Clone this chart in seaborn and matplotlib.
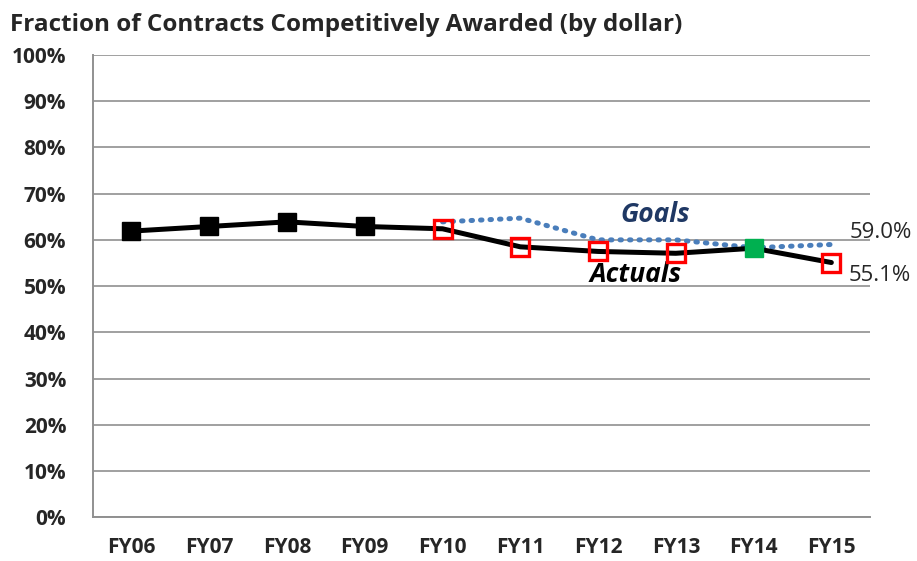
import numpy as np
import pandas as pd
import matplotlib
matplotlib.use("Agg")
import matplotlib.pyplot as plt
import seaborn as sns

# data
years = ["FY06", "FY07", "FY08", "FY09", "FY10", "FY11", "FY12", "FY13", "FY14", "FY15"]
actuals = [61.9, 62.9, 63.9, 62.9, 62.4, 58.5, 57.5, 57.1, 58.2, 55.1]
goal_years = ["FY10", "FY11", "FY12", "FY13", "FY14", "FY15"]
goals = [63.9, 64.7, 60.0, 60.0, 58.3, 59.0]
red_years = ["FY10", "FY11", "FY12", "FY13", "FY15"]
green_years = ["FY14"]
black_years = ["FY06", "FY07", "FY08", "FY09"]

sns.set_theme(style="white")
plt.rcParams['font.family'] = ['Open Sans', 'DejaVu Sans']

fig = plt.figure(figsize=(9.17, 5.61), dpi=100)
ax = fig.add_axes([0.101, 0.078, 0.848, 0.824])

pos = {y: i for i, y in enumerate(years)}
df_act = pd.DataFrame({"x": [pos[y] for y in years], "v": actuals})
df_goal = pd.DataFrame({"x": [pos[y] for y in goal_years], "v": goals})

sns.lineplot(data=df_goal, x="x", y="v", ax=ax, color="#4a7ebb", linewidth=3.6,
             linestyle=(0, (0.3, 1.6)), dash_capstyle="round", zorder=2)
sns.lineplot(data=df_act, x="x", y="v", ax=ax, color="black", linewidth=3.6, zorder=3)

act = dict(zip(years, actuals))
ax.plot([pos[y] for y in black_years], [act[y] for y in black_years], "s",
        color="black", markersize=13, zorder=4)
ax.plot([pos[y] for y in red_years], [act[y] for y in red_years], "s",
        markerfacecolor="none", markeredgecolor="#ff0000", markeredgewidth=2.4,
        markersize=13.5, zorder=5)
ax.plot([pos[y] for y in green_years], [act[y] for y in green_years], "s",
        color="#00b050", markersize=13, zorder=5)

ax.set_xlim(-0.5, 9.5)
ax.set_ylim(0, 100)
ax.set_yticks(np.arange(0, 101, 10))
ax.set_yticklabels([f"{v}%" for v in range(0, 101, 10)], fontweight="bold", fontsize=15)
ax.set_xticks(range(len(years)))
ax.set_xticklabels(years, fontweight="bold", fontsize=15)
ax.set_xticks(np.arange(-0.5, 10, 1), minor=True)
ax.tick_params(axis="x", which="major", length=0, pad=14)
ax.tick_params(axis="x", which="minor", length=8, color="#909090", width=1.2, direction="out")
ax.tick_params(axis="y", length=5, color="#909090", width=1.2, direction="out", pad=14)
ax.yaxis.grid(True, color="#a0a0a0", linewidth=1.4)
ax.set_axisbelow(True)
for s in ["top", "right"]:
    ax.spines[s].set_visible(False)
for s in ["left", "bottom"]:
    ax.spines[s].set_color("#909090")
    ax.spines[s].set_linewidth(1.4)
ax.set_xlabel("")
ax.set_ylabel("")

ax.text(6.73, 65.5, "Goals", fontsize=19, fontweight="bold", fontstyle="italic",
        color="#1f3864", ha="center", va="center")
ax.text(6.48, 52.6, "Actuals", fontsize=19, fontweight="bold", fontstyle="italic",
        color="black", ha="center", va="center")
ax.text(9.24, 61.5, "59.0%", fontsize=16, ha="left", va="center", clip_on=False)
ax.text(9.22, 52.3, "55.1%", fontsize=16, ha="left", va="center", clip_on=False)

fig.text(0.011, 0.955, "Fraction of Contracts Competitively Awarded (by dollar)",
         fontsize=17.5, fontweight="bold", ha="left", va="center")

fig.savefig("out.png", dpi=100)
